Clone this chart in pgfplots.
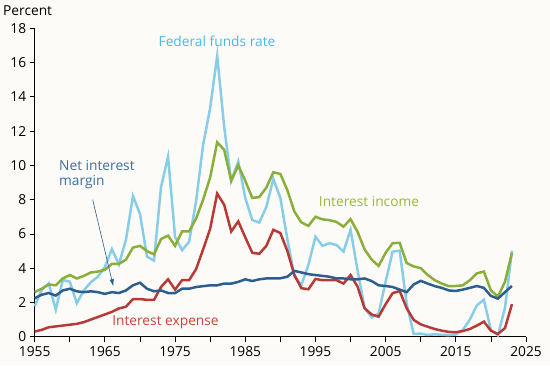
\documentclass[border=0pt]{standalone}
\usepackage{pgfplots}
\pgfplotsset{compat=1.18}
\usetikzlibrary{arrows.meta}
\usepackage{fontspec}
\setmainfont{Open Sans}
\definecolor{bg}{HTML}{FCFBF7}
\definecolor{ffr}{HTML}{88CDE8}
\definecolor{ffrtext}{HTML}{4DB8E6}
\definecolor{nim}{HTML}{2E5E8E}
\definecolor{nimtext}{HTML}{3A6EA5}
\definecolor{iexp}{HTML}{B83A37}
\definecolor{iexptext}{HTML}{C8423C}
\definecolor{iinc}{HTML}{8AAE3A}
\definecolor{iinctext}{HTML}{96B83E}
\begin{document}
\begin{tikzpicture}[x=1bp,y=1bp]
\fill[bg] (0,0) rectangle (550,365);
\useasboundingbox (0,0) rectangle (550,365);
\begin{axis}[
  at={(34.7bp,28.3bp)}, anchor=south west,
  scale only axis, width=491.3bp, height=308.4bp,
  xmin=1955, xmax=2025, ymin=0, ymax=18,
  axis x line=bottom, axis y line=left,
  axis line style={black, line width=0.8pt, -},
  xtick={1955,1965,...,2025},
  minor xtick={1960,1970,...,2020},
  ytick={0,2,...,18},
  tick style={black, line width=0.8pt},
  major tick length=5bp, minor tick length=5bp,
  tick align=outside,
  xticklabel style={/pgf/number format/1000 sep={}},
  /pgf/number format/assume math mode=true,
  tick label style={font=\fontsize{13.8}{15}\selectfont},
  xticklabel style={yshift=-1bp},
  clip=false,
]
\addplot[ffr, line width=2.5pt] coordinates {
(1955,1.78)(1956,2.73)(1957,3.11)(1958,1.57)(1959,3.31)(1960,3.21)(1961,1.95)(1962,2.71)(1963,3.18)(1964,3.50)
(1965,4.07)(1966,5.11)(1967,4.22)(1968,5.66)(1969,8.21)(1970,7.17)(1971,4.67)(1972,4.44)(1973,8.74)(1974,10.51)
(1975,5.82)(1976,5.05)(1977,5.54)(1978,7.94)(1979,11.20)(1980,13.35)(1981,16.39)(1982,12.24)(1983,9.09)(1984,10.23)
(1985,8.10)(1986,6.81)(1987,6.66)(1988,7.57)(1989,9.21)(1990,8.10)(1991,5.69)(1992,3.52)(1993,3.02)(1994,4.20)
(1995,5.84)(1996,5.30)(1997,5.46)(1998,5.35)(1999,4.97)(2000,6.24)(2001,3.88)(2002,1.67)(2003,1.13)(2004,1.35)
(2005,3.22)(2006,4.97)(2007,5.02)(2008,1.92)(2009,0.16)(2010,0.18)(2011,0.10)(2012,0.14)(2013,0.11)(2014,0.09)
(2015,0.13)(2016,0.40)(2017,1.00)(2018,1.83)(2019,2.16)(2020,0.38)(2021,0.08)(2022,1.68)(2023,5.02)
};
\addplot[iinc, line width=2.5pt] coordinates {
(1955,2.6)(1956,2.8)(1957,3.05)(1958,3.0)(1959,3.4)(1960,3.6)(1961,3.4)(1962,3.55)(1963,3.75)(1964,3.8)
(1965,3.9)(1966,4.25)(1967,4.25)(1968,4.5)(1969,5.2)(1970,5.3)(1971,5.0)(1972,4.8)(1973,5.7)(1974,5.9)
(1975,5.3)(1976,6.15)(1977,6.15)(1978,6.9)(1979,8.0)(1980,9.3)(1981,11.35)(1982,10.9)(1983,9.1)(1984,10.0)
(1985,9.1)(1986,8.1)(1987,8.15)(1988,8.7)(1989,9.6)(1990,9.5)(1991,8.55)(1992,7.3)(1993,6.67)(1994,6.47)
(1995,7.0)(1996,6.85)(1997,6.8)(1998,6.7)(1999,6.42)(2000,6.86)(2001,6.12)(2002,5.1)(2003,4.5)(2004,4.13)
(2005,4.9)(2006,5.46)(2007,5.48)(2008,4.3)(2009,4.1)(2010,4.0)(2011,3.6)(2012,3.3)(2013,3.1)(2014,2.95)
(2015,2.96)(2016,3.0)(2017,3.3)(2018,3.7)(2019,3.8)(2020,2.7)(2021,2.34)(2022,3.2)(2023,4.9)
};
\addplot[iexp, line width=2.5pt] coordinates {
(1955,0.3)(1956,0.4)(1957,0.55)(1958,0.6)(1959,0.65)(1960,0.7)(1961,0.75)(1962,0.85)(1963,1.0)(1964,1.15)
(1965,1.3)(1966,1.45)(1967,1.65)(1968,1.75)(1969,2.2)(1970,2.2)(1971,2.15)(1972,2.15)(1973,2.9)(1974,3.35)
(1975,2.75)(1976,3.3)(1977,3.3)(1978,3.95)(1979,5.1)(1980,6.3)(1981,8.35)(1982,7.7)(1983,6.14)(1984,6.73)
(1985,5.8)(1986,4.9)(1987,4.84)(1988,5.3)(1989,6.24)(1990,6.05)(1991,5.0)(1992,3.6)(1993,2.83)(1994,2.77)
(1995,3.37)(1996,3.3)(1997,3.3)(1998,3.3)(1999,3.1)(2000,3.6)(2001,2.92)(2002,1.66)(2003,1.3)(2004,1.17)
(2005,1.9)(2006,2.54)(2007,2.67)(2008,1.66)(2009,0.98)(2010,0.72)(2011,0.58)(2012,0.45)(2013,0.35)(2014,0.28)
(2015,0.26)(2016,0.33)(2017,0.45)(2018,0.65)(2019,0.88)(2020,0.35)(2021,0.16)(2022,0.5)(2023,1.9)
};
\addplot[nim, line width=2.5pt] coordinates {
(1955,2.25)(1956,2.45)(1957,2.55)(1958,2.4)(1959,2.7)(1960,2.8)(1961,2.65)(1962,2.6)(1963,2.65)(1964,2.6)
(1965,2.5)(1966,2.6)(1967,2.55)(1968,2.7)(1969,3.0)(1970,3.15)(1971,2.8)(1972,2.65)(1973,2.7)(1974,2.55)
(1975,2.55)(1976,2.8)(1977,2.8)(1978,2.9)(1979,2.95)(1980,3.0)(1981,3.0)(1982,3.1)(1983,3.1)(1984,3.2)
(1985,3.35)(1986,3.25)(1987,3.35)(1988,3.4)(1989,3.4)(1990,3.41)(1991,3.5)(1992,3.84)(1993,3.75)(1994,3.65)
(1995,3.6)(1996,3.55)(1997,3.5)(1998,3.4)(1999,3.4)(2000,3.35)(2001,3.35)(2002,3.4)(2003,3.25)(2004,3.0)
(2005,2.96)(2006,2.9)(2007,2.75)(2008,2.6)(2009,3.05)(2010,3.26)(2011,3.1)(2012,2.95)(2013,2.85)(2014,2.7)
(2015,2.67)(2016,2.75)(2017,2.85)(2018,2.96)(2019,2.85)(2020,2.38)(2021,2.22)(2022,2.6)(2023,2.96)
};
\draw[nim, line width=0.6pt, -{Latex[length=7bp,width=4.5bp]}] (axis cs:1963.26,8.0) -- (axis cs:1966.2,2.95);
\end{axis}
\node[anchor=west, font=\fontsize{13.8}{15}\selectfont, inner sep=0] at (3,354) {Percent};
\node[ffrtext, font=\fontsize{13.8}{15}\selectfont, inner sep=0] at (217,323.3) {Federal funds rate};
\node[iinctext, font=\fontsize{13.8}{15}\selectfont, inner sep=0] at (369,163.3) {Interest income};
\node[iexptext, font=\fontsize{13.8}{15}\selectfont, inner sep=0] at (165.5,42.7) {Interest expense};
\node[nimtext, font=\fontsize{13.8}{15}\selectfont, inner sep=0, anchor=west, align=left] at (59,190) {Net interest\\margin};
\end{tikzpicture}
\end{document}
